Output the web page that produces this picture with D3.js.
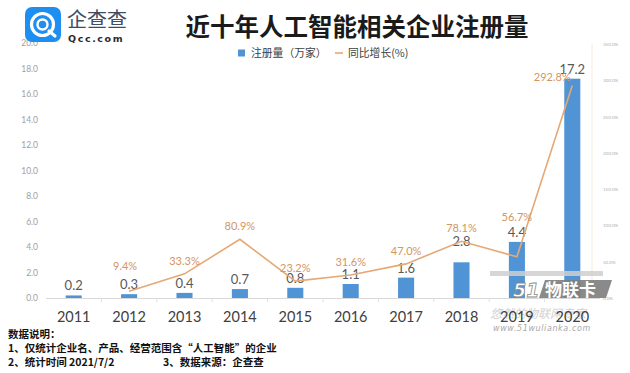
<!DOCTYPE html>
<html>
<head>
<meta charset="utf-8">
<script src="https://cdn.jsdelivr.net/npm/d3@7"></script>
<style>
  body { margin: 0; background: #fff; }
  svg { display: block; }
</style>
</head>
<body>
<svg id="chart" width="630" height="373"></svg>
<script>
// data
const years = ["2011", "2012", "2013", "2014", "2015", "2016", "2017", "2018", "2019", "2020"];
const regCount = [0.2, 0.3, 0.4, 0.7, 0.8, 1.1, 1.6, 2.8, 4.4, 17.2];          // 注册量（万家）
const yoyGrowth = [null, 9.4, 33.3, 80.9, 23.2, 31.6, 47.0, 78.1, 56.7, 292.8]; // 同比增长(%)
const leftTicks = [0, 2, 4, 6, 8, 10, 12, 14, 16, 18, 20];
const rightTicks = [0, 50, 100, 150, 200, 250, 300, 350];
const notes = [
  "数据说明：",
  "1、仅统计企业名、产品、经营范围含“人工智能”的企业",
  "2、统计时间 2021/7/2"
];

const svg = d3.select("#chart");
const numFont = "Lato, 'Open Sans', sans-serif";
const cjkFont = "'Noto Sans CJK SC', sans-serif";

const x = d3.scaleBand()
  .domain(years)
  .range([46, 600])
  .paddingInner(0.71)
  .paddingOuter(0.355);
const yL = d3.scaleLinear().domain([0, 20]).range([298, 43]);
const yR = d3.scaleLinear().domain([0, 350]).range([298, 44]);
const cx = d => x(d) + x.bandwidth() / 2;

// left axis
const gL = svg.append("g")
  .attr("transform", "translate(41,0)")
  .call(d3.axisLeft(yL).tickValues(leftTicks).tickFormat(d3.format(".1f")).tickSize(0));
gL.select(".domain").remove();
gL.selectAll("text")
  .attr("fill", "#a0a0a0")
  .style("font-family", numFont)
  .style("font-size", "8.5px");

// right axis (tiny)
const gR = svg.append("g")
  .attr("transform", "translate(603,0)")
  .call(d3.axisRight(yR).tickValues(rightTicks).tickFormat(d => d.toFixed(1) + "%").tickSize(0));
gR.select(".domain").remove();
gR.selectAll("text")
  .attr("fill", "#b0b0b0")
  .attr("x", 0)
  .style("font-family", numFont)
  .style("font-size", "4.5px");

// faint right guide line
svg.append("line")
  .attr("x1", 592).attr("x2", 592)
  .attr("y1", 44).attr("y2", 298)
  .attr("stroke", "#f6ead8").attr("stroke-width", 1);

// baseline
svg.append("line")
  .attr("x1", 46).attr("x2", 600)
  .attr("y1", 298.5).attr("y2", 298.5)
  .attr("stroke", "#d9d9d9").attr("stroke-width", 1);
svg.append("g").selectAll("line")
  .data(years.slice(1))
  .enter().append("line")
  .attr("x1", d => x(d) - x.step() * x.paddingInner() / 2)
  .attr("x2", d => x(d) - x.step() * x.paddingInner() / 2)
  .attr("y1", 298).attr("y2", 302)
  .attr("stroke", "#e0e0e0");

// bars
svg.append("g").selectAll("rect")
  .data(years)
  .enter().append("rect")
  .attr("x", d => x(d))
  .attr("y", (d, i) => yL(regCount[i]))
  .attr("width", x.bandwidth())
  .attr("height", (d, i) => 298 - yL(regCount[i]))
  .attr("fill", "#5094d5");

// bar value labels
const barNudge = { "2018": -11 };
svg.append("g").selectAll("text")
  .data(years)
  .enter().append("text")
  .attr("x", d => cx(d))
  .attr("y", (d, i) => yL(regCount[i]) - 5 + (barNudge[d] || 0))
  .attr("text-anchor", "middle")
  .attr("fill", "#595959")
  .style("font-family", numFont)
  .style("font-size", "13px")
  .text((d, i) => regCount[i].toFixed(1));

// growth line
const pts = years.map((d, i) => ({ year: d, v: yoyGrowth[i] })).filter(p => p.v !== null);
const line = d3.line().x(p => cx(p.year)).y(p => yR(p.v));
svg.append("path")
  .datum(pts)
  .attr("d", line)
  .attr("fill", "none")
  .attr("stroke", "#e6a874")
  .attr("stroke-width", 1.6);

// growth labels
const pctNudge = { "2012": [-4, -12], "2019": [0, -27], "2020": [-20, 4] };
svg.append("g").selectAll("text")
  .data(pts)
  .enter().append("text")
  .attr("x", p => cx(p.year) + (pctNudge[p.year] ? pctNudge[p.year][0] : 0))
  .attr("y", p => yR(p.v) - 9 + (pctNudge[p.year] ? pctNudge[p.year][1] : 0))
  .attr("text-anchor", "middle")
  .attr("fill", "#d39563")
  .style("font-family", numFont)
  .style("font-size", "11px")
  .text(p => p.v.toFixed(1) + "%");

// watermark in the lower right (drawn under the year labels)
const wm = svg.append("g");
wm.append("rect").attr("x", 490).attr("y", 271).attr("width", 113).attr("height", 5)
  .attr("fill", "#cfcfcf").attr("opacity", 0.85);
wm.append("path")
  .attr("d", "M545,280 L612,280 L606,298 L539,298 Z")
  .attr("fill", "#7d7d7d").attr("opacity", 0.9);
wm.append("text").attr("x", 513).attr("y", 297)
  .attr("fill", "#fff").attr("stroke", "#8a8a8a").attr("stroke-width", 0.8)
  .style("font-family", "'DejaVu Sans', sans-serif").style("font-weight", "bold")
  .style("font-style", "italic").style("font-size", "19px")
  .text("51");
wm.append("text").attr("x", 545).attr("y", 296)
  .attr("fill", "#fff")
  .style("font-family", cjkFont).style("font-weight", "bold").style("font-size", "17px")
  .text("物联卡");
wm.append("text").attr("x", 490).attr("y", 318)
  .attr("fill", "#b4b4b4").attr("opacity", 0.6)
  .style("font-family", cjkFont).style("font-style", "italic").style("font-size", "12px")
  .text("悠然的物联网专家");
wm.append("text").attr("x", 493).attr("y", 331)
  .attr("fill", "#a8a8a8")
  .style("font-family", "'DejaVu Sans', sans-serif").style("font-style", "italic")
  .style("font-size", "8px").style("letter-spacing", "0.6px")
  .text("www.51wulianka.com");

// year labels
svg.append("g").selectAll("text")
  .data(years)
  .enter().append("text")
  .attr("x", d => cx(d))
  .attr("y", 322)
  .attr("text-anchor", "middle")
  .attr("fill", "#404040")
  .style("font-family", numFont)
  .style("font-size", "14.5px")
  .text(d => d);

// title
svg.append("text")
  .attr("x", 357).attr("y", 36)
  .attr("text-anchor", "middle")
  .attr("fill", "#1a1a1a")
  .style("font-family", cjkFont)
  .style("font-weight", "bold")
  .style("font-size", "24.5px")
  .text("近十年人工智能相关企业注册量");

// legend
const lg = svg.append("g").attr("transform", "translate(238,53)");
lg.append("rect").attr("x", 0).attr("y", -3.5).attr("width", 7).attr("height", 7).attr("fill", "#5094d5");
lg.append("text").attr("x", 13).attr("y", 4)
  .attr("fill", "#404040")
  .style("font-family", cjkFont).style("font-size", "10.8px")
  .text("注册量（万家）");
lg.append("line").attr("x1", 97).attr("x2", 105).attr("y1", 0).attr("y2", 0)
  .attr("stroke", "#e6a874").attr("stroke-width", 1.6);
lg.append("text").attr("x", 110).attr("y", 4)
  .attr("fill", "#404040")
  .style("font-family", cjkFont).style("font-size", "10.8px")
  .text("同比增长(%)");

// logo
const logo = svg.append("g");
logo.append("rect")
  .attr("x", 25).attr("y", 7).attr("width", 36).attr("height", 35).attr("rx", 7)
  .attr("fill", "#1f8ef1");
logo.append("circle").attr("cx", 42.5).attr("cy", 24.5).attr("r", 11)
  .attr("fill", "none").attr("stroke", "#fff").attr("stroke-width", 3.2);
logo.append("circle").attr("cx", 42.5).attr("cy", 24.5).attr("r", 5)
  .attr("fill", "none").attr("stroke", "#fff").attr("stroke-width", 2.4);
logo.append("line").attr("x1", 49).attr("y1", 31).attr("x2", 55).attr("y2", 36)
  .attr("stroke", "#fff").attr("stroke-width", 3.2).attr("stroke-linecap", "round");
logo.append("text").attr("x", 67).attr("y", 27)
  .attr("fill", "#3d4d63")
  .style("font-family", cjkFont).style("font-size", "20px")
  .text("企查查");
logo.append("text").attr("x", 68).attr("y", 42)
  .attr("fill", "#2b2b2b")
  .style("font-family", "'DejaVu Sans', sans-serif").style("font-weight", "bold")
  .style("font-size", "9.5px").style("letter-spacing", "1.6px")
  .text("Qcc.com");

// notes
svg.append("g").selectAll("text")
  .data(notes)
  .enter().append("text")
  .attr("x", 8)
  .attr("y", (d, i) => 338 + i * 14)
  .attr("fill", "#111")
  .style("font-family", cjkFont)
  .style("font-weight", "bold")
  .style("font-size", "10.5px")
  .text(d => d);
svg.append("text")
  .attr("x", 163).attr("y", 366)
  .attr("fill", "#111")
  .style("font-family", cjkFont)
  .style("font-weight", "bold")
  .style("font-size", "10.5px")
  .text("3、数据来源：企查查");
</script>
</body>
</html>
